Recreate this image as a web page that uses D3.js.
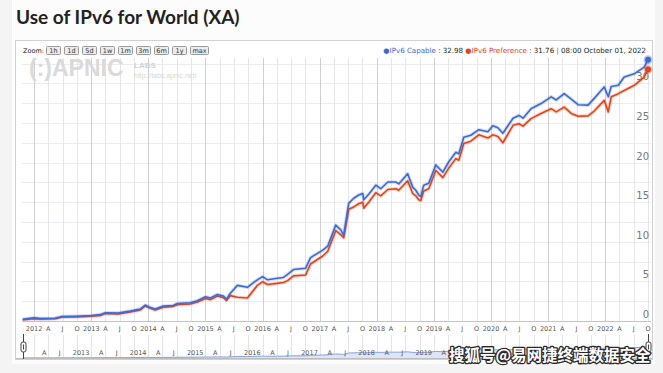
<!DOCTYPE html>
<html>
<head>
<meta charset="utf-8">
<script src="https://cdn.jsdelivr.net/npm/d3@7"></script>
<style>
  html, body { margin: 0; padding: 0; background: #f4f4f4; }
  svg { display: block; }
</style>
</head>
<body>
<div id="chart"></div>
<script>
// Data (percent)
const dates = [
  "2011-10-20","2012-01-01","2012-02-08","2012-05-15","2012-06-28","2012-09-20",
  "2013-01-01","2013-02-28","2013-04-01","2013-06-22","2013-09-07","2013-11-10",
  "2013-12-12","2014-01-13","2014-02-14","2014-04-06","2014-06-09","2014-07-04",
  "2014-09-26","2014-11-10","2015-01-01","2015-02-02","2015-03-18","2015-04-26",
  "2015-05-15","2015-06-09","2015-07-24","2015-09-26","2015-11-29","2016-01-01",
  "2016-02-02","2016-04-05","2016-05-14","2016-06-09","2016-07-17","2016-10-02",
  "2016-11-03","2017-01-20","2017-02-21","2017-04-13","2017-05-15","2017-06-03",
  "2017-07-05","2017-08-06","2017-09-07","2017-10-03","2017-10-09","2017-11-10",
  "2017-12-25","2018-01-26","2018-03-12","2018-05-02","2018-05-21","2018-07-17",
  "2018-08-18","2018-09-07","2018-09-26","2018-10-09","2018-10-28","2018-11-29",
  "2019-01-13","2019-02-27","2019-04-06","2019-05-21","2019-06-09","2019-07-11",
  "2019-08-25","2019-10-15","2019-12-12","2020-01-13","2020-02-14","2020-03-17",
  "2020-05-21","2020-06-28","2020-07-24","2020-09-13","2020-11-16","2021-01-20",
  "2021-02-21","2021-04-13","2021-05-28","2021-07-11","2021-09-13","2021-10-22",
  "2021-12-25","2022-01-20","2022-02-08","2022-03-25","2022-05-02","2022-07-05",
  "2022-09-07","2022-10-01"
];
const capable = [
  0.2,0.4,0.3,0.35,0.55,0.6,
  0.7,0.8,1.05,1.0,1.25,1.5,
  2.0,1.7,1.5,1.9,1.95,2.2,
  2.3,2.55,3.05,2.9,3.35,3.15,
  2.75,3.5,4.5,4.25,5.2,5.6,
  5.2,5.4,5.5,5.9,6.5,6.65,
  8.0,8.95,9.45,12.1,11.5,10.85,
  14.85,15.5,15.9,16.1,15.3,16.0,
  17.15,16.7,17.55,17.55,17.3,18.6,
  16.9,16.5,15.9,15.7,17.15,17.4,
  19.7,18.8,20.1,21.3,21.1,23.2,
  23.45,24.15,23.9,24.65,24.4,23.7,
  25.6,25.95,25.6,26.8,27.45,28.3,
  27.9,28.7,28.0,27.3,27.25,28.1,
  29.55,28.3,29.6,29.75,30.8,31.2,
  32.05,32.98
];
const preference = [
  0.15,0.3,0.25,0.3,0.5,0.5,
  0.6,0.7,0.95,0.9,1.15,1.4,
  1.9,1.6,1.4,1.75,1.85,2.05,
  2.15,2.4,2.85,2.7,3.15,2.95,
  2.6,3.2,3.0,2.9,4.5,4.95,
  4.6,4.75,4.85,5.1,5.7,5.8,
  7.2,8.2,8.8,11.4,10.9,10.5,
  14.1,14.4,14.8,15.0,14.25,15.0,
  16.2,15.8,16.6,16.7,16.5,17.7,
  16.1,15.8,15.3,15.2,16.4,16.7,
  19.0,18.1,19.3,20.5,20.3,22.4,
  22.7,23.5,23.1,23.5,23.3,22.5,
  24.7,24.9,24.6,25.55,26.2,26.8,
  26.4,27.0,26.2,25.85,25.9,26.5,
  27.85,26.4,28.3,28.7,29.1,29.75,
  30.8,31.76
];
const yTicks = [0, 5, 10, 15, 20, 25, 30];
const zoomButtons = ["1h", "1d", "5d", "1w", "1m", "3m", "6m", "1y", "max"];
const monthLabels = {0: null, 3: "A", 6: "J", 9: "O"};

const W = 663, H = 373;
const blue = "#3a6bd6", red = "#e4431b";
const parse = d3.timeParse("%Y-%m-%d");
const rows = dates.map((d, i) => ({ date: parse(d), cap: capable[i], pref: preference[i] }));

const svg = d3.select("#chart").append("svg").attr("width", W).attr("height", H);

// page panels
svg.append("rect").attr("x", 12).attr("y", 0).attr("width", 643).attr("height", 364).attr("fill", "#fcfcfc");
svg.append("rect").attr("x", 15.5).attr("y", 40.5).attr("width", 637).attr("height", 319)
  .attr("fill", "#fff").attr("stroke", "#d0d0d0");

svg.append("text").attr("x", 16).attr("y", 24)
  .attr("font-family", "Lato, 'Open Sans', sans-serif").attr("font-weight", 700)
  .attr("font-size", 19).attr("fill", "#222").text("Use of IPv6 for World (XA)");

// scales
const plot = { left: 22, right: 651, top: 58, bottom: 321 };
const x = d3.scaleTime().domain([rows[0].date, rows[rows.length - 1].date]).range([22.7, 648]);
const y = d3.scaleLinear().domain([0, 33.2]).range([plot.bottom, plot.top]);

const tEnd = x.invert(plot.right);
const quarters = d3.timeMonth.every(3).range(d3.timeMonth.ceil(x.invert(plot.left)), tEnd);

// gridlines
const grid = svg.append("g");
grid.selectAll(".hg").data(d3.range(0, 33.2, 2.5)).enter().append("line")
  .attr("x1", plot.left).attr("x2", plot.right)
  .attr("y1", d => Math.round(y(d)) + 0.5).attr("y2", d => Math.round(y(d)) + 0.5)
  .attr("stroke", "#ececf0");
grid.selectAll(".vg").data(quarters).enter().append("line")
  .attr("x1", d => Math.round(x(d)) + 0.5).attr("x2", d => Math.round(x(d)) + 0.5)
  .attr("y1", plot.top).attr("y2", plot.bottom)
  .attr("stroke", d => d.getMonth() === 0 ? "#cfcfcf" : "#e6e6e6");
svg.append("line").attr("x1", plot.left).attr("x2", plot.right)
  .attr("y1", plot.bottom + 0.5).attr("y2", plot.bottom + 0.5).attr("stroke", "#c4c4c4");

// x labels
svg.append("g").selectAll("text").data(quarters).enter().append("text")
  .attr("x", d => x(d)).attr("y", 330.5).attr("text-anchor", "middle")
  .attr("font-family", "'DejaVu Sans', sans-serif").attr("font-size", 6.5).attr("fill", "#555")
  .text(d => d.getMonth() === 0 ? d.getFullYear() : monthLabels[d.getMonth()]);

// APNIC watermark
const wm = svg.append("g").attr("font-family", "'Liberation Sans', Arial, sans-serif");
wm.append("text").attr("x", 29).attr("y", 76).attr("font-size", 23).attr("font-weight", 700)
  .attr("fill", "#dadada").text("(:)APNIC");
wm.append("text").attr("x", 134).attr("y", 68).attr("font-size", 8).attr("font-weight", 700)
  .attr("fill", "#d0d0d0").text("LABS");
wm.append("text").attr("x", 134).attr("y", 78).attr("font-size", 7)
  .attr("fill", "#d6d6d6").text("http://labs.apnic.net/");

// y labels
svg.append("g").selectAll("text").data(yTicks).enter().append("text")
  .attr("x", 649).attr("y", d => y(d) - 3).attr("text-anchor", "end")
  .attr("font-family", "'DejaVu Sans', sans-serif").attr("font-size", 10).attr("fill", "#777")
  .text(d => d);

// series
svg.append("clipPath").attr("id", "clip").append("rect")
  .attr("x", plot.left).attr("y", plot.top - 6).attr("width", plot.right - plot.left + 2).attr("height", plot.bottom - plot.top + 6);
const series = [
  { key: "pref", color: red },
  { key: "cap", color: blue }
];
const lines = svg.append("g").attr("clip-path", "url(#clip)");
series.forEach(s => {
  const line = d3.line().x(d => x(d.date)).y(d => y(d[s.key]));
  lines.append("path").datum(rows).attr("d", line).attr("fill", "none")
    .attr("stroke", s.color).attr("stroke-opacity", 0.22).attr("stroke-width", 3.6).attr("stroke-linejoin", "round");
  lines.append("path").datum(rows).attr("d", line).attr("fill", "none")
    .attr("stroke", s.color).attr("stroke-width", 1.6).attr("stroke-linejoin", "round");
  const last = rows[rows.length - 1];
  svg.append("circle").attr("cx", x(last.date)).attr("cy", y(last[s.key])).attr("r", 3)
    .attr("fill", s.color).attr("stroke", s.color).attr("stroke-opacity", 0.35).attr("stroke-width", 3);
});

// zoom buttons
const zb = svg.append("g").attr("font-family", "'DejaVu Sans', sans-serif").attr("font-size", 6.5);
zb.append("text").attr("x", 23).attr("y", 53).attr("fill", "#222").text("Zoom:");
let bx = 46.5;
zoomButtons.forEach(b => {
  const w = b.length * 4 + 6;
  zb.append("rect").attr("x", bx).attr("y", 46.5).attr("width", w).attr("height", 8).attr("rx", 1)
    .attr("fill", "#ececec").attr("stroke", "#9a9a9a");
  zb.append("text").attr("x", bx + w / 2).attr("y", 53).attr("text-anchor", "middle").attr("fill", "#333").text(b);
  bx += w + 4;
});

// legend
const last = rows[rows.length - 1];
const lg = svg.append("text").attr("x", 646).attr("y", 53).attr("text-anchor", "end")
  .attr("font-family", "'DejaVu Sans', sans-serif").attr("font-size", 7.1).attr("fill", "#222");
lg.append("tspan").attr("fill", blue).text("\u25CF");
lg.append("tspan").attr("fill", blue).text("IPv6 Capable");
lg.append("tspan").text(" : " + last.cap.toFixed(2) + " ");
lg.append("tspan").attr("fill", red).text("\u25CF");
lg.append("tspan").attr("fill", red).text("IPv6 Preference");
lg.append("tspan").text(" : " + last.pref.toFixed(2) + "  ");
lg.append("tspan").attr("fill", "#c0392b").text("| ");
lg.append("tspan").text("08:00 October 01, 2022");

// navigator
const nav = { top: 335, bottom: 358 };
const yNav = d3.scaleLinear().domain([0, 66]).range([nav.bottom, nav.top + 1]);
const navQuarters = quarters.filter(d => d.getMonth() !== 9);
svg.append("g").selectAll("line").data(quarters).enter().append("line")
  .attr("x1", d => Math.round(x(d)) + 0.5).attr("x2", d => Math.round(x(d)) + 0.5)
  .attr("y1", nav.top).attr("y2", nav.bottom).attr("stroke", "#e4e4e4");
svg.append("path").datum(rows).attr("fill", "#dde5f6")
  .attr("d", d3.area().x(d => x(d.date)).y0(nav.bottom).y1(d => yNav(d.cap)));
svg.append("path").datum(rows).attr("fill", "none").attr("stroke", "#86a2e0").attr("stroke-width", 1)
  .attr("d", d3.line().x(d => x(d.date)).y(d => yNav(d.cap)));
svg.append("line").attr("x1", 16).attr("x2", 652).attr("y1", nav.bottom + 0.5).attr("y2", nav.bottom + 0.5).attr("stroke", "#bdbdbd");
svg.append("g").selectAll("text").data(navQuarters.filter(d => x(d) > 40 && x(d) < 450)).enter().append("text")
  .attr("x", d => x(d) - 2).attr("y", 355).attr("text-anchor", "end")
  .attr("font-family", "'DejaVu Sans', sans-serif").attr("font-size", 6.5).attr("fill", "#555")
  .text(d => d.getMonth() === 0 ? d.getFullYear() : monthLabels[d.getMonth()]);

// handles
[23, 648].forEach(hx => {
  svg.append("line").attr("x1", hx + 0.5).attr("x2", hx + 0.5).attr("y1", nav.top - 1).attr("y2", nav.bottom + 1).attr("stroke", "#444");
  svg.append("rect").attr("x", hx - 2).attr("y", 342).attr("width", 5).attr("height", 10).attr("rx", 2)
    .attr("fill", "#fff").attr("stroke", "#444");
  svg.append("line").attr("x1", hx + 0.5).attr("x2", hx + 0.5).attr("y1", 344.5).attr("y2", 349.5).attr("stroke", "#444");
});

// site watermark
svg.append("text").attr("x", 449).attr("y", 361)
  .attr("font-family", "'Noto Sans CJK SC', sans-serif").attr("font-size", 15.5).attr("font-weight", 700)
  .attr("fill", "#fff").attr("stroke", "#2a2a2a").attr("stroke-width", 2.6).attr("paint-order", "stroke")
  .attr("stroke-linejoin", "round")
  .text("搜狐号@易网捷终端数据安全");
</script>
</body>
</html>
